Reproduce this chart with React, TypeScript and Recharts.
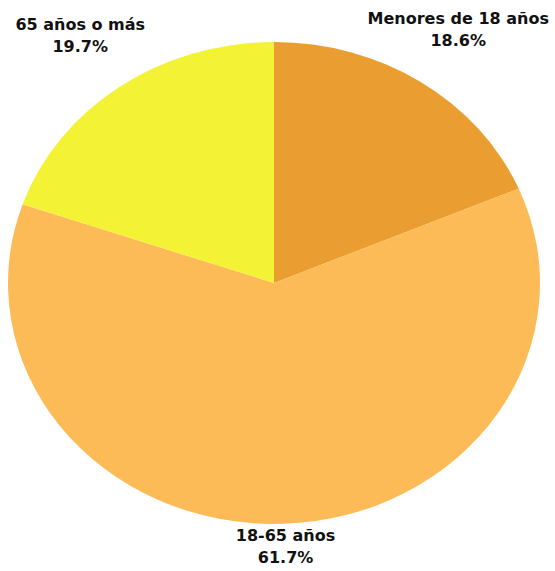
import React from "react";
import { PieChart, Pie, Cell, Sector } from "recharts";

const categories = ["Menores de 18 años", "18-65 años", "65 años o más"];
const shares = [18.6, 61.7, 19.7];
const colors = ["#EA9D30", "#FCBB56", "#F3F235"];

const data = categories.map((name, i) => ({ name, value: shares[i] }));

const SY = 241 / 266;

const renderShape = (props: any) => {
  const { cy } = props;
  return (
    <g transform={`translate(0 ${cy}) scale(1 ${SY}) translate(0 ${-cy})`}>
      <Sector {...props} stroke="none" />
    </g>
  );
};

const renderLabel = (props: any) => {
  const { cx, cy, midAngle, name, value } = props;
  const rad = (midAngle * Math.PI) / 180;
  const ux = Math.cos(rad);
  const uy = Math.sin(rad);
  const x = cx + ux * 334;
  const yc = cy - uy * (uy > 0 ? 305 : 263);
  return (
    <text
      x={x}
      y={yc}
      textAnchor="middle"
      fontFamily="DejaVu Sans"
      fontWeight="bold"
      fontSize={16}
      fill="#111"
    >
      <tspan x={x} dy={-5}>{name}</tspan>
      <tspan x={x} dy={22}>{`${value.toFixed(1)}%`}</tspan>
    </text>
  );
};

export default function App() {
  return (
    <div style={{ position: "absolute", left: 0, top: 0, background: "#fff" }}>
      <PieChart width={555} height={571} margin={{ top: 0, right: 0, bottom: 0, left: 0 }}>
        <Pie
          data={data}
          dataKey="value"
          nameKey="name"
          cx={274}
          cy={283}
          outerRadius={266}
          startAngle={90}
          endAngle={-270}
          isAnimationActive={false}
          shape={renderShape}
          label={renderLabel}
          labelLine={false}
        >
          {data.map((d, i) => (
            <Cell key={d.name} fill={colors[i]} />
          ))}
        </Pie>
      </PieChart>
    </div>
  );
}
